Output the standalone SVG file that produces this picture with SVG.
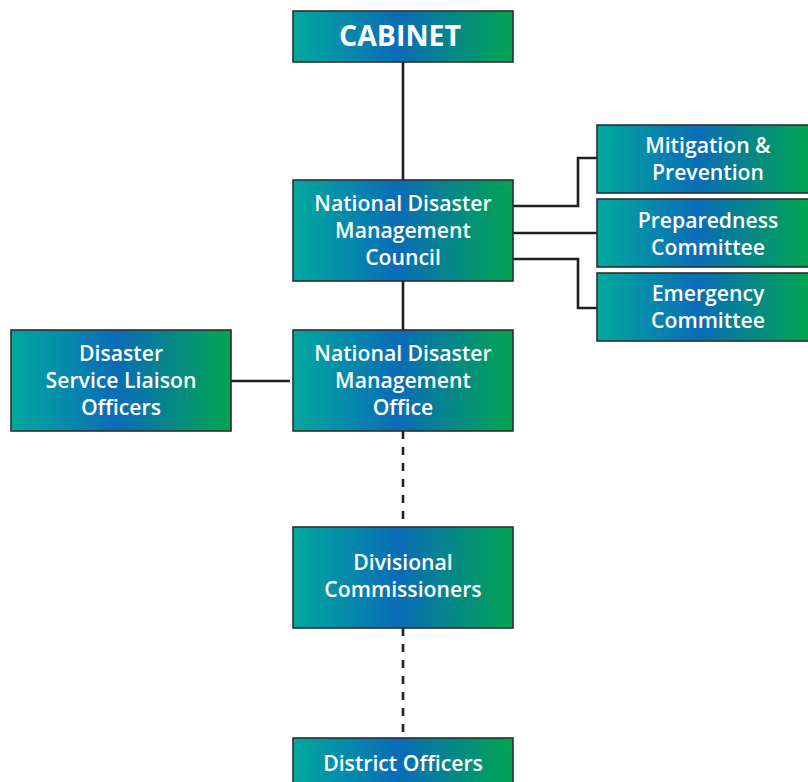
<svg xmlns="http://www.w3.org/2000/svg" width="808" height="782" viewBox="0 0 808 782">
  <defs>
    <linearGradient id="boxFill" x1="0" y1="0" x2="1" y2="0">
      <stop offset="0" stop-color="#00a99d"/>
      <stop offset="0.48" stop-color="#0a6cb7"/>
      <stop offset="1" stop-color="#00a651"/>
    </linearGradient>
    <style>
      .box { fill: url(#boxFill); stroke: #2e2e2e; stroke-width: 1.6; }
      .label { fill: #ffffff; font-family: "Open Sans", "Noto Sans", sans-serif; font-weight: 600; font-size: 21.2px; text-anchor: middle; }
      .title { font-size: 28.5px; font-weight: 700; }
      .link { fill: none; stroke: #231f20; stroke-width: 2.6; }
      .dashed { stroke-dasharray: 8 8; }
    </style>
  </defs>

  <!-- connectors -->
  <g id="connectors">
    <path class="link" d="M403 62 V180"/>
    <path class="link" d="M403 281 V330"/>
    <path class="link" d="M231 381 H290"/>
    <path class="link" d="M513 206 H578 V158 H597"/>
    <path class="link" d="M513 233 H597"/>
    <path class="link" d="M513 259 H578 V308 H597"/>
    <path class="link dashed" d="M403 431 V527"/>
    <path class="link dashed" d="M403 628 V738"/>
  </g>

  <g id="cabinet">
    <rect class="box" x="293" y="11" width="220" height="51"/>
    <text class="label title" x="400" y="46">CABINET</text>
  </g>

  <g id="ndmc">
    <rect class="box" x="293" y="180" width="220" height="101"/>
    <text class="label" x="403" y="211">National Disaster</text>
    <text class="label" x="403" y="238">Management</text>
    <text class="label" x="403" y="265">Council</text>
  </g>

  <g id="mitigation">
    <rect class="box" x="597" y="125" width="212" height="68"/>
    <text class="label" x="708" y="153">Mitigation &amp;</text>
    <text class="label" x="708" y="180">Prevention</text>
  </g>

  <g id="preparedness">
    <rect class="box" x="597" y="199" width="212" height="68"/>
    <text class="label" x="708" y="228">Preparedness</text>
    <text class="label" x="708" y="255">Committee</text>
  </g>

  <g id="emergency">
    <rect class="box" x="597" y="273" width="212" height="68"/>
    <text class="label" x="708" y="301">Emergency</text>
    <text class="label" x="708" y="328">Committee</text>
  </g>

  <g id="ndmo">
    <rect class="box" x="293" y="330" width="220" height="101"/>
    <text class="label" x="403" y="361">National Disaster</text>
    <text class="label" x="403" y="388">Management</text>
    <text class="label" x="403" y="415">Office</text>
  </g>

  <g id="liaison">
    <rect class="box" x="11" y="330" width="220" height="101"/>
    <text class="label" x="121" y="361">Disaster</text>
    <text class="label" x="121" y="388">Service Liaison</text>
    <text class="label" x="121" y="415">Officers</text>
  </g>

  <g id="divisional">
    <rect class="box" x="293" y="527" width="220" height="101"/>
    <text class="label" x="403" y="570">Divisional</text>
    <text class="label" x="403" y="597">Commissioners</text>
  </g>

  <g id="district">
    <rect class="box" x="293" y="738" width="220" height="60"/>
    <text class="label" x="403" y="771">District Officers</text>
  </g>
</svg>
